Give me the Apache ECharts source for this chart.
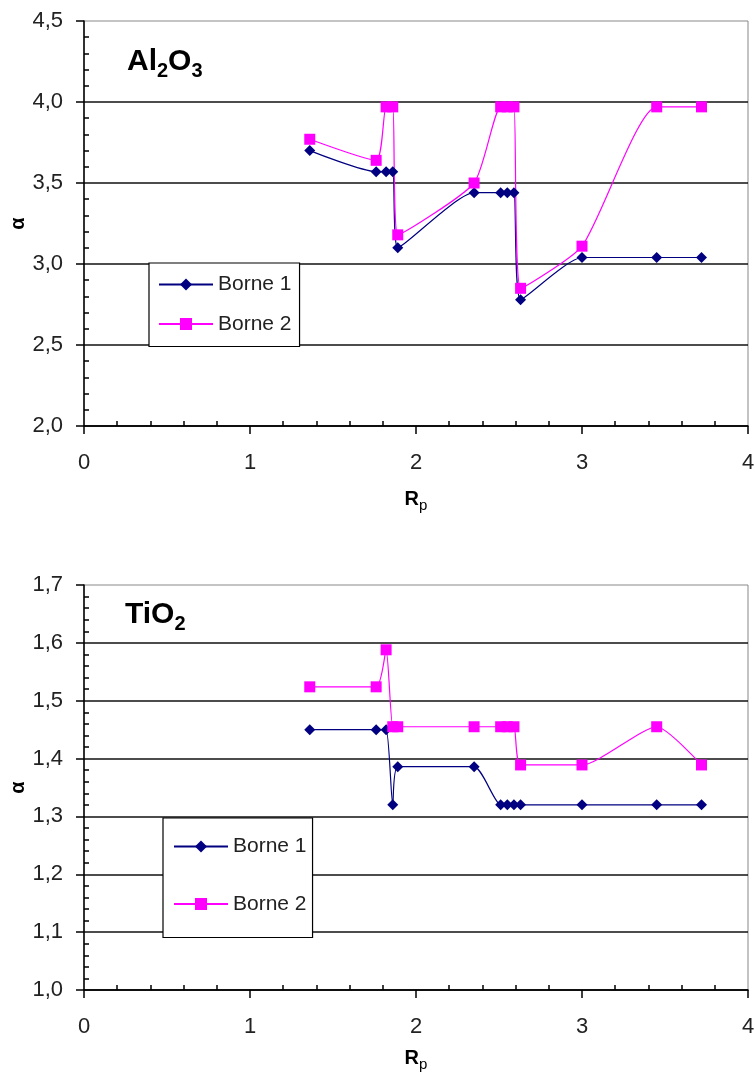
<!DOCTYPE html>
<html><head><meta charset="utf-8">
<script src="https://cdn.jsdelivr.net/npm/echarts@6/dist/echarts.min.js"></script>
<style>html,body{margin:0;padding:0;background:#fff}#c{width:755px;height:1081px}</style>
</head><body><div id="c"></div>
<script>
// ---- data ----
const rp = [1.36, 1.76, 1.82, 1.86, 1.89, 2.35, 2.51, 2.55, 2.59, 2.63, 3.00, 3.45, 3.72];
const al2o3Borne1 = [3.70, 3.57, 3.57, 3.57, 3.10, 3.44, 3.44, 3.44, 3.44, 2.78, 3.04, 3.04, 3.04];
const al2o3Borne2 = [3.77, 3.64, 3.97, 3.97, 3.18, 3.50, 3.97, 3.97, 3.97, 2.85, 3.11, 3.97, 3.97];
const tio2Borne1 = [1.450, 1.450, 1.450, 1.320, 1.386, 1.386, 1.320, 1.320, 1.320, 1.320, 1.320, 1.320, 1.320];
const tio2Borne2 = [1.524, 1.524, 1.588, 1.455, 1.455, 1.455, 1.455, 1.455, 1.455, 1.389, 1.389, 1.455, 1.389];
const seriesNames = ['Borne 1', 'Borne 2'];
const xRange = [0, 4, 1];
const yRangeTop = [2.0, 4.5, 0.5];
const yRangeBottom = [1.0, 1.7, 0.1];

const FONT = '"Liberation Sans", Arial, sans-serif';
const NAVY = '#000080', MAG = '#FF00FF';
const pairs = (xs, ys) => xs.map((x, i) => [x, ys[i]]);
const fmt = v => v.toFixed(1).replace('.', ',');

function xAxis(gridIndex, nameGap) {
  return {
    type: 'value', gridIndex, min: xRange[0], max: xRange[1], interval: xRange[2],
    name: '{r|R}{p|p}', nameLocation: 'middle', nameGap, nameMoveOverlap: false,
    nameTextStyle: { rich: {
      r: { fontSize: 20, fontWeight: 'bold', fontFamily: FONT, color: '#000', lineHeight: 20, verticalAlign: 'top' },
      p: { fontSize: 15, fontFamily: FONT, color: '#000', lineHeight: 15, padding: [9, 0, 0, 0], verticalAlign: 'top' }
    }},
    axisLine: { show: true, onZero: false, lineStyle: { color: '#000', width: 1.5 } },
    axisTick: { show: true, length: 8, lineStyle: { color: '#000', width: 1.5 } },
    minorTick: { show: true, splitNumber: 5, length: -5, lineStyle: { color: '#000', width: 1.5 } },
    axisLabel: { fontSize: 22, color: '#222', fontFamily: FONT, margin: 26 },
    splitLine: { show: false }, minorSplitLine: { show: false }
  };
}
function yAxis(gridIndex, r) {
  return {
    type: 'value', gridIndex, min: r[0], max: r[1], interval: r[2],
    name: 'α', nameLocation: 'middle', nameGap: 56, nameRotate: 90, nameMoveOverlap: false,
    nameTextStyle: { fontSize: 20, fontWeight: 'bold', fontFamily: FONT, color: '#000' },
    axisLine: { show: true, onZero: false, lineStyle: { color: '#000', width: 1.5 } },
    axisTick: { show: true, length: 8, lineStyle: { color: '#000', width: 1.5 } },
    minorTick: { show: true, splitNumber: 5, length: -5, lineStyle: { color: '#000', width: 1.5 } },
    axisLabel: { fontSize: 22, color: '#222', fontFamily: FONT, margin: 21, formatter: fmt },
    splitLine: { show: true, showMaxLine: false, lineStyle: { color: '#111', width: 1.5 } },
    minorSplitLine: { show: false }
  };
}
function lineSeries(name, gi, xs, ys, symbol, color) {
  return {
    name, type: 'line', xAxisIndex: gi, yAxisIndex: gi, data: pairs(xs, ys),
    smooth: 0.2, symbol, symbolSize: 11, showAllSymbol: true,
    lineStyle: { color, width: 1.2 }, itemStyle: { color }, emphasis: { disabled: true }
  };
}
function legend(left, top, padding, gap) {
  return {
    orient: 'vertical', left, top, data: seriesNames, padding, itemGap: gap,
    itemWidth: 54, itemHeight: 15, backgroundColor: '#fff', borderColor: '#000', borderWidth: 1.2, borderRadius: 0,
    textStyle: { fontSize: 21, fontFamily: FONT, color: '#222' }, selectedMode: false
  };
}
const subRich = (big) => ({
  a: { fontSize: big, fontWeight: 'bold', fontFamily: FONT, color: '#000', lineHeight: big, verticalAlign: 'top' },
  s: { fontSize: 20, fontWeight: 'bold', fontFamily: FONT, color: '#000', lineHeight: 20, padding: [14, 0, 0, 0], verticalAlign: 'top' }
});

const gridBase = { left: 84, right: 7, height: 405, show: true, borderColor: '#888', borderWidth: 1,
  backgroundColor: 'transparent', containLabel: false, outerBoundsMode: 'none' };

const chart = echarts.init(document.getElementById('c'), null, { renderer: 'canvas' });
chart.setOption({
  animation: false,
  backgroundColor: '#fff',
  grid: [Object.assign({ top: 21 }, gridBase), Object.assign({ top: 585 }, gridBase)],
  xAxis: [xAxis(0, 63), xAxis(1, 58)],
  yAxis: [yAxis(0, yRangeTop), yAxis(1, yRangeBottom)],
  legend: [legend(149, 263, [11, 8, 12, 9], 18.5), legend(163, 818, [18, 6, 23, 10], 36.5)],
  graphic: [
    { type: 'text', left: 127, top: 47, z: 10, style: { text: '{a|Al}{s|2}{a|O}{s|3}', rich: subRich(30) } },
    { type: 'text', left: 125, top: 600, z: 10, style: { text: '{a|TiO}{s|2}', rich: subRich(30) } }
  ],
  series: [
    lineSeries(seriesNames[0], 0, rp, al2o3Borne1, 'diamond', NAVY),
    lineSeries(seriesNames[1], 0, rp, al2o3Borne2, 'rect', MAG),
    lineSeries(seriesNames[0], 1, rp, tio2Borne1, 'diamond', NAVY),
    lineSeries(seriesNames[1], 1, rp, tio2Borne2, 'rect', MAG)
  ]
});
</script></body></html>
